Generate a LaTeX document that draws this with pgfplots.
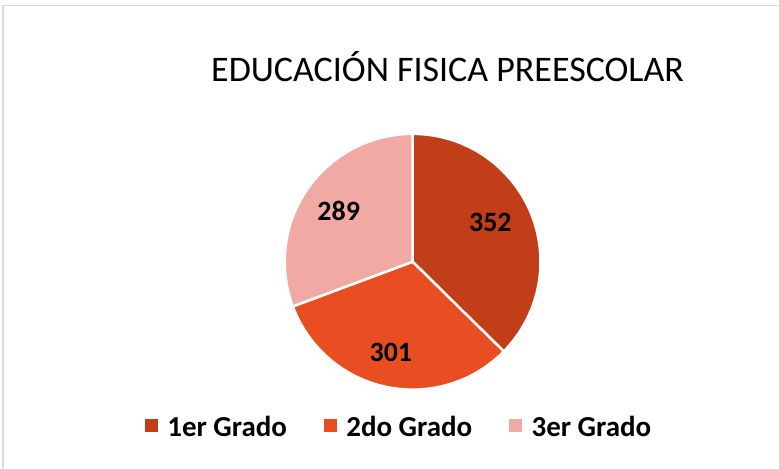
\documentclass[border=0pt]{standalone}
\usepackage{fontspec}
\setmainfont{Carlito}
\usepackage{pgfplots}
\usepackage{pgfplotstable}
\pgfplotsset{compat=1.18}
\definecolor{cA}{RGB}{193,62,25}
\definecolor{cB}{RGB}{233,78,35}
\definecolor{cC}{RGB}{240,170,163}
\definecolor{framegray}{RGB}{217,217,217}
\pgfplotstableread{
label value
1erGrado 352
2doGrado 301
3erGrado 289
}\piedata
\begin{document}
\begin{tikzpicture}
\pgfplotstablegetelem{0}{value}\of\piedata \let\vA\pgfplotsretval
\pgfplotstablegetelem{1}{value}\of\piedata \let\vB\pgfplotsretval
\pgfplotstablegetelem{2}{value}\of\piedata \let\vC\pgfplotsretval
\pgfmathsetmacro\tot{\vA+\vB+\vC}
\pgfmathsetmacro\aA{90}
\pgfmathsetmacro\aB{\aA-360*(\vA/\tot)}
\pgfmathsetmacro\aC{\aB-360*(\vB/\tot)}
\pgfmathsetmacro\aD{\aC-360*(\vC/\tot)}
\pgfmathsetmacro\mA{(\aA+\aB)/2+3.8}
\pgfmathsetmacro\mB{(\aB+\aC)/2-1.5}
\pgfmathsetmacro\mC{(\aC+\aD)/2}
\begin{axis}[
  width=779pt, height=468pt, scale only axis, hide axis, clip=false,
  xmin=0, xmax=779, ymin=0, ymax=468,
  legend image code/.code={\fill[#1] (0pt,-4.5pt) rectangle (12pt,7.5pt);},
  legend style={at={(axis cs:398.5,41)}, anchor=center, draw=none, fill=none,
    legend columns=3, font=\bfseries\fontsize{29}{34}\selectfont,
    nodes={inner sep=0pt},
    /tikz/every odd column/.append style={column sep=10pt},
    /tikz/every even column/.append style={column sep=37pt}},
]
\path (axis cs:0,0) rectangle (axis cs:779,468);
\draw[framegray, line width=1.5pt] (axis cs:3,0) -- (axis cs:3,462.3) -- (axis cs:779,462.3);
\node[font=\fontsize{36}{36}\selectfont, anchor=base] at (axis cs:448,386) {EDUCACIÓN FISICA PREESCOLAR};
\fill[cA, draw=white, line width=2.5pt, line join=round] (axis cs:413,206) -- ++(\aA:128pt) arc[start angle=\aA, end angle=\aB, radius=128pt] -- cycle;
\fill[cB, draw=white, line width=2.5pt, line join=round] (axis cs:413,206) -- ++(\aB:128pt) arc[start angle=\aB, end angle=\aC, radius=128pt] -- cycle;
\fill[cC, draw=white, line width=2.5pt, line join=round] (axis cs:413,206) -- ++(\aC:128pt) arc[start angle=\aC, end angle=\aD, radius=128pt] -- cycle;
\path (axis cs:413,206) ++(\mA:87pt) node[font=\bfseries\fontsize{28}{28}\selectfont] {\vA};
\path (axis cs:413,206) ++(\mB:93pt) node[font=\bfseries\fontsize{28}{28}\selectfont] {\vB};
\path (axis cs:413,206) ++(\mC:90pt) node[font=\bfseries\fontsize{28}{28}\selectfont] {\vC};
\addlegendimage{cA}
\addlegendentry{1er Grado}
\addlegendimage{cB}
\addlegendentry{2do Grado}
\addlegendimage{cC}
\addlegendentry{3er Grado}
\end{axis}
\end{tikzpicture}
\end{document}
